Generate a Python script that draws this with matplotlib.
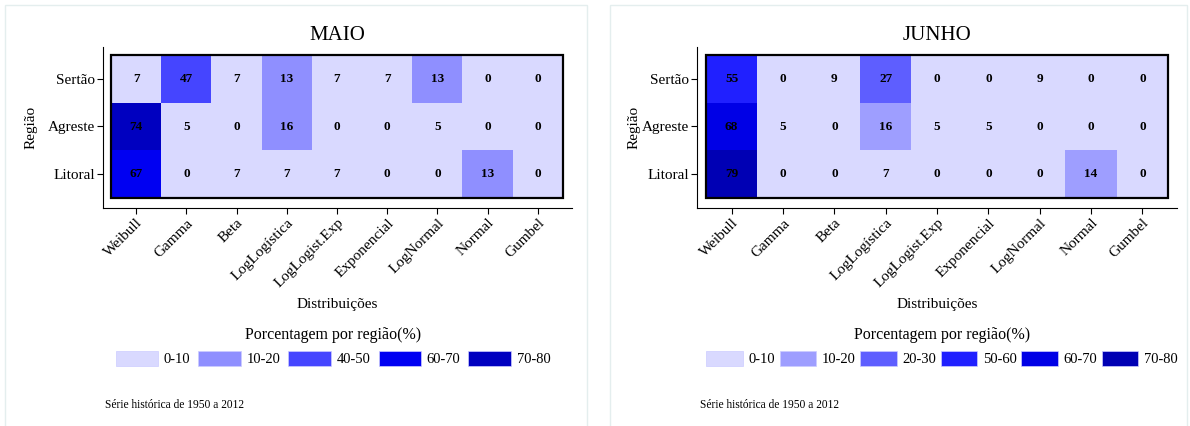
import numpy as np
import matplotlib
matplotlib.use("Agg")
from matplotlib import pyplot as plt
from matplotlib.colors import ListedColormap
from matplotlib.patches import Patch, Rectangle

plt.rcParams['font.family'] = ['Liberation Serif', 'DejaVu Serif']

# data
distribuicoes = ['Weibull', 'Gamma', 'Beta', 'LogLogística', 'LogLogist.Exp',
                 'Exponencial', 'LogNormal', 'Normal', 'Gumbel']
regioes = ['Sertão', 'Agreste', 'Litoral']

maio = [[7, 47, 7, 13, 7, 7, 13, 0, 0],
        [74, 5, 0, 16, 0, 0, 5, 0, 0],
        [67, 0, 7, 7, 7, 0, 0, 13, 0]]
junho = [[55, 0, 9, 27, 0, 0, 9, 0, 0],
         [68, 5, 0, 16, 5, 5, 0, 0, 0],
         [79, 0, 0, 7, 0, 0, 0, 14, 0]]

maio_classes = ['0-10', '10-20', '40-50', '60-70', '70-80']
maio_cores = ['#d9d9ff', '#8f8fff', '#4545ff', '#0000f2', '#0000c0']
junho_classes = ['0-10', '10-20', '20-30', '50-60', '60-70', '70-80']
junho_cores = ['#d9d9ff', '#9e9eff', '#5e5eff', '#2020ff', '#0000e6', '#0000b4']

W, H = 1190, 426


def classe(v, classes):
    for i, c in enumerate(classes):
        lo, hi = [int(s) for s in c.split('-')]
        if lo <= v < hi or (v == hi and i == len(classes) - 1):
            return i
    return 0


def painel(dados, classes, cores, titulo, box, heat, leg, nota_x, ylab_x, hl, cs):
    # box = (left, top, right, bottom) of the axes spines in pixels
    # heat = (left, right) of the heatmap in pixels
    l, t, r, b = box
    ax = fig.add_axes([l / W, 1 - b / H, (r - l) / W, (b - t) / H])
    dados = np.array(dados)
    idx = np.vectorize(lambda v: classe(v, classes))(dados)
    cmap = ListedColormap(cores)
    ax.imshow(idx, cmap=cmap, vmin=-0.5, vmax=len(cores) - 0.5, aspect='auto',
              interpolation='nearest')
    for i in range(dados.shape[0]):
        for j in range(dados.shape[1]):
            ax.text(j, i, str(dados[i, j]), ha='center', va='center',
                    fontsize=9.5, fontweight='bold', color='black')
    ax.add_patch(Rectangle((-0.5, -0.5), dados.shape[1], dados.shape[0],
                           fill=False, edgecolor='black', lw=1.6, zorder=5))
    cw = (heat[1] - heat[0]) / dados.shape[1]
    rh = (198 - 55) / dados.shape[0]
    ax.set_xlim(-0.5 - (heat[0] - l) / cw, dados.shape[1] - 0.5 + (r - heat[1]) / cw)
    ax.set_ylim(dados.shape[0] - 0.5 + (b - 198) / rh, -0.5 - (55 - t) / rh)
    ax.spines['top'].set_visible(False)
    ax.spines['right'].set_visible(False)
    ax.set_xticks(range(len(distribuicoes)))
    ax.set_xticklabels(distribuicoes, rotation=45, ha='right', rotation_mode='anchor',
                       fontsize=11)
    ax.set_yticks(range(len(regioes)))
    ax.set_yticklabels(regioes, fontsize=11)
    ax.tick_params(length=4, width=0.8, pad=2)
    ax.set_title(titulo, fontsize=15, pad=5)
    ax.set_xlabel('Distribuições', fontsize=11)
    ax.xaxis.set_label_coords(0.5, (b - 298) / (b - t))
    ax.set_ylabel('Região', fontsize=11)
    ax.yaxis.set_label_coords((ylab_x - l) / (r - l), 0.5)

    handles = [Patch(facecolor=c, edgecolor='#ccccff', lw=0.5) for c in cores]
    fig.legend(handles, classes, ncol=len(classes), loc='upper center',
               bbox_to_anchor=(leg / W, 1 - 317 / H), frameon=False,
               fontsize=10.5, title='Porcentagem por região(%)',
               title_fontsize=11.5, handlelength=hl, handleheight=1.3,
               handletextpad=0.4, columnspacing=cs, borderpad=0.2)
    fig.text(nota_x / W, 1 - 405 / H, 'Série histórica de 1950 a 2012',
             fontsize=8.3, va='center')
    return ax


fig = plt.figure(figsize=(W / 100, H / 100), dpi=100)

# cards
for x0, x1 in [(5, 587), (610, 1187)]:
    fig.patches.append(Rectangle((x0 / W, -0.1), (x1 - x0) / W, 1 - 5 / H + 0.1,
                                 transform=fig.transFigure, fill=False,
                                 edgecolor='#e4eeee', lw=1))

painel(maio, maio_classes, maio_cores, 'MAIO', (103, 46.7, 572, 208), (111, 563),
       333, 105, 38, 2.9, 0.55)
painel(junho, junho_classes, junho_cores, 'JUNHO', (697, 46.7, 1177, 208), (706, 1168),
       942, 700, 641, 2.5, 0.3)

fig.savefig('out.png', dpi=100)
